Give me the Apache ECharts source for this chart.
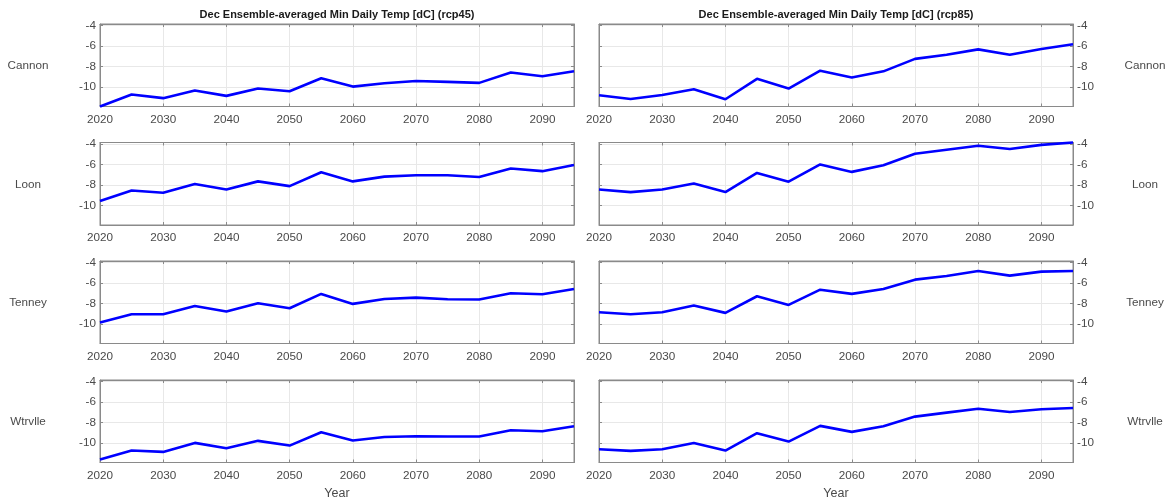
<!DOCTYPE html>
<html>
<head>
<meta charset="utf-8">
<script src="https://cdn.jsdelivr.net/npm/echarts@6/dist/echarts.min.js"></script>
<style>
  html, body { margin: 0; padding: 0; background: #ffffff; }
  #chart { width: 1169px; height: 498px; }
</style>
</head>
<body>
<div id="chart"></div>
<script>
// December ensemble-averaged minimum daily temperature [dC], by station and scenario
const years = [2020, 2025, 2030, 2035, 2040, 2045, 2050, 2055, 2060, 2065, 2070, 2075, 2080, 2085, 2090, 2095];
const stations = ['Cannon', 'Loon', 'Tenney', 'Wtrvlle'];
const scenarios = ['rcp45', 'rcp85'];
const xTickLabels = [2020, 2030, 2040, 2050, 2060, 2070, 2080, 2090];
const yTickLabels = [-10, -8, -6, -4];

const cannonRcp45  = [-11.87, -10.70, -11.06, -10.32, -10.84, -10.13, -10.39, -9.13, -9.94, -9.61, -9.39, -9.48, -9.58, -8.58, -8.94, -8.45];
const cannonRcp85  = [-10.78, -11.14, -10.75, -10.20, -11.17, -9.19, -10.13, -8.40, -9.05, -8.46, -7.25, -6.85, -6.33, -6.85, -6.30, -5.84];
const loonRcp45    = [-9.54, -8.52, -8.75, -7.90, -8.42, -7.64, -8.10, -6.75, -7.64, -7.18, -7.05, -7.05, -7.21, -6.39, -6.65, -6.06];
const loonRcp85    = [-8.42, -8.68, -8.42, -7.84, -8.68, -6.82, -7.67, -6.00, -6.72, -6.07, -4.96, -4.57, -4.18, -4.50, -4.10, -3.87];
const tenneyRcp45  = [-9.84, -9.03, -9.03, -8.23, -8.77, -7.97, -8.45, -7.06, -8.03, -7.55, -7.42, -7.58, -7.61, -7.00, -7.10, -6.58];
const tenneyRcp85  = [-8.84, -9.03, -8.84, -8.19, -8.90, -7.29, -8.13, -6.65, -7.06, -6.58, -5.68, -5.32, -4.84, -5.29, -4.90, -4.84];
const wtrvlleRcp45 = [-11.58, -10.71, -10.84, -9.97, -10.48, -9.77, -10.23, -8.94, -9.74, -9.39, -9.32, -9.35, -9.35, -8.74, -8.84, -8.35];
const wtrvlleRcp85 = [-10.58, -10.74, -10.58, -9.97, -10.71, -9.03, -9.84, -8.32, -8.90, -8.35, -7.42, -7.03, -6.65, -6.97, -6.71, -6.58];

// rows = stations, columns = scenarios
const panels = [
  [cannonRcp45, cannonRcp85],
  [loonRcp45, loonRcp85],
  [tenneyRcp45, tenneyRcp85],
  [wtrvlleRcp45, wtrvlleRcp85]
];

// shared, data-tight y limits
const allValues = panels.flat(2);
const yMin = Math.min(...allValues);
const yMax = Math.max(...allValues);

const FONT = '"Liberation Sans", Arial, Helvetica, sans-serif';
const LABEL_COLOR = '#4a4a4a';
const BORDER_COLOR = '#8a8a8a';
const GRID_COLOR = '#e8e8e8';

const colLeft = [100, 599];
const plotWidth = 474;
const rowTop = [24, 142.5, 261, 380];
const plotHeight = 82.5;

const grid = [], xAxis = [], yAxis = [], series = [], graphic = [];

for (let r = 0; r < stations.length; r++) {
  for (let c = 0; c < scenarios.length; c++) {
    const g = grid.length;
    grid.push({
      left: colLeft[c], top: rowTop[r], width: plotWidth, height: plotHeight,
      outerBoundsMode: 'none', containLabel: false,
      show: true, borderColor: BORDER_COLOR, borderWidth: 1, backgroundColor: '#ffffff'
    });

    const isBottom = r === stations.length - 1;
    // main x axis (bottom) with labels and grid lines
    xAxis.push({
      type: 'value', gridIndex: g, position: 'bottom',
      min: 2020, max: 2095, interval: 10,
      name: isBottom ? 'Year' : '', nameLocation: 'middle', nameGap: 25,
      nameTextStyle: { fontFamily: FONT, fontSize: 12.5, color: LABEL_COLOR },
      axisLine: { show: true, lineStyle: { color: BORDER_COLOR, width: 1 } },
      axisTick: { show: true, inside: true, length: 3, lineStyle: { color: BORDER_COLOR } },
      axisLabel: {
        show: true, margin: 7, fontFamily: FONT, fontSize: 11.7, color: LABEL_COLOR,
        customValues: xTickLabels,
        formatter: v => String(v)
      },
      splitLine: { show: true, lineStyle: { color: GRID_COLOR, width: 1 } }
    });
    // mirrored top x axis: ticks only
    xAxis.push({
      type: 'value', gridIndex: g, position: 'top',
      min: 2020, max: 2095, interval: 10,
      axisLine: { show: true, lineStyle: { color: BORDER_COLOR, width: 1 } },
      axisTick: { show: true, inside: true, length: 3, lineStyle: { color: BORDER_COLOR }, customValues: xTickLabels },
      axisLabel: { show: false },
      splitLine: { show: false }
    });

    const side = c === 0 ? 'left' : 'right';
    const otherSide = c === 0 ? 'right' : 'left';
    yAxis.push({
      type: 'value', gridIndex: g, position: side,
      min: yMin, max: yMax,
      axisLine: { show: true, lineStyle: { color: BORDER_COLOR, width: 1 } },
      axisTick: { show: true, inside: true, length: 3, lineStyle: { color: BORDER_COLOR }, customValues: yTickLabels },
      axisLabel: {
        show: true, margin: 4, fontFamily: FONT, fontSize: 11.7, color: LABEL_COLOR,
        customValues: yTickLabels
      },
      splitLine: { show: true, lineStyle: { color: GRID_COLOR, width: 1 } }
    });
    yAxis.push({
      type: 'value', gridIndex: g, position: otherSide,
      min: yMin, max: yMax,
      axisLine: { show: true, lineStyle: { color: BORDER_COLOR, width: 1 } },
      axisTick: { show: true, inside: true, length: 3, lineStyle: { color: BORDER_COLOR }, customValues: yTickLabels },
      axisLabel: { show: false },
      splitLine: { show: false }
    });

    series.push({
      type: 'line',
      xAxisIndex: 2 * g, yAxisIndex: 2 * g,
      data: years.map((yr, k) => [yr, panels[r][c][k]]),
      showSymbol: false, symbol: 'none',
      clip: false, animation: false,
      lineStyle: { color: '#0000ff', width: 2.6 }
    });
  }

  // station names beside each row
  const cy = rowTop[r] + plotHeight / 2 + 1;
  graphic.push({
    type: 'text', x: 28, y: cy,
    style: { text: stations[r], fill: LABEL_COLOR, font: '11.7px ' + FONT, textAlign: 'center', textVerticalAlign: 'middle' }
  });
  graphic.push({
    type: 'text', x: 1145, y: cy,
    style: { text: stations[r], fill: LABEL_COLOR, font: '11.7px ' + FONT, textAlign: 'center', textVerticalAlign: 'middle' }
  });
}

// column titles
scenarios.forEach((sc, c) => {
  graphic.push({
    type: 'text', x: colLeft[c] + plotWidth / 2, y: 14.5,
    style: {
      text: 'Dec Ensemble-averaged Min Daily Temp [dC] (' + sc + ')',
      fill: '#1a1a1a', font: 'bold 11px ' + FONT, textAlign: 'center', textVerticalAlign: 'middle'
    }
  });
});

const chart = echarts.init(document.getElementById('chart'), null, { renderer: 'canvas' });
chart.setOption({
  backgroundColor: '#ffffff',
  animation: false,
  grid, xAxis, yAxis, series, graphic
});
</script>
</body>
</html>
